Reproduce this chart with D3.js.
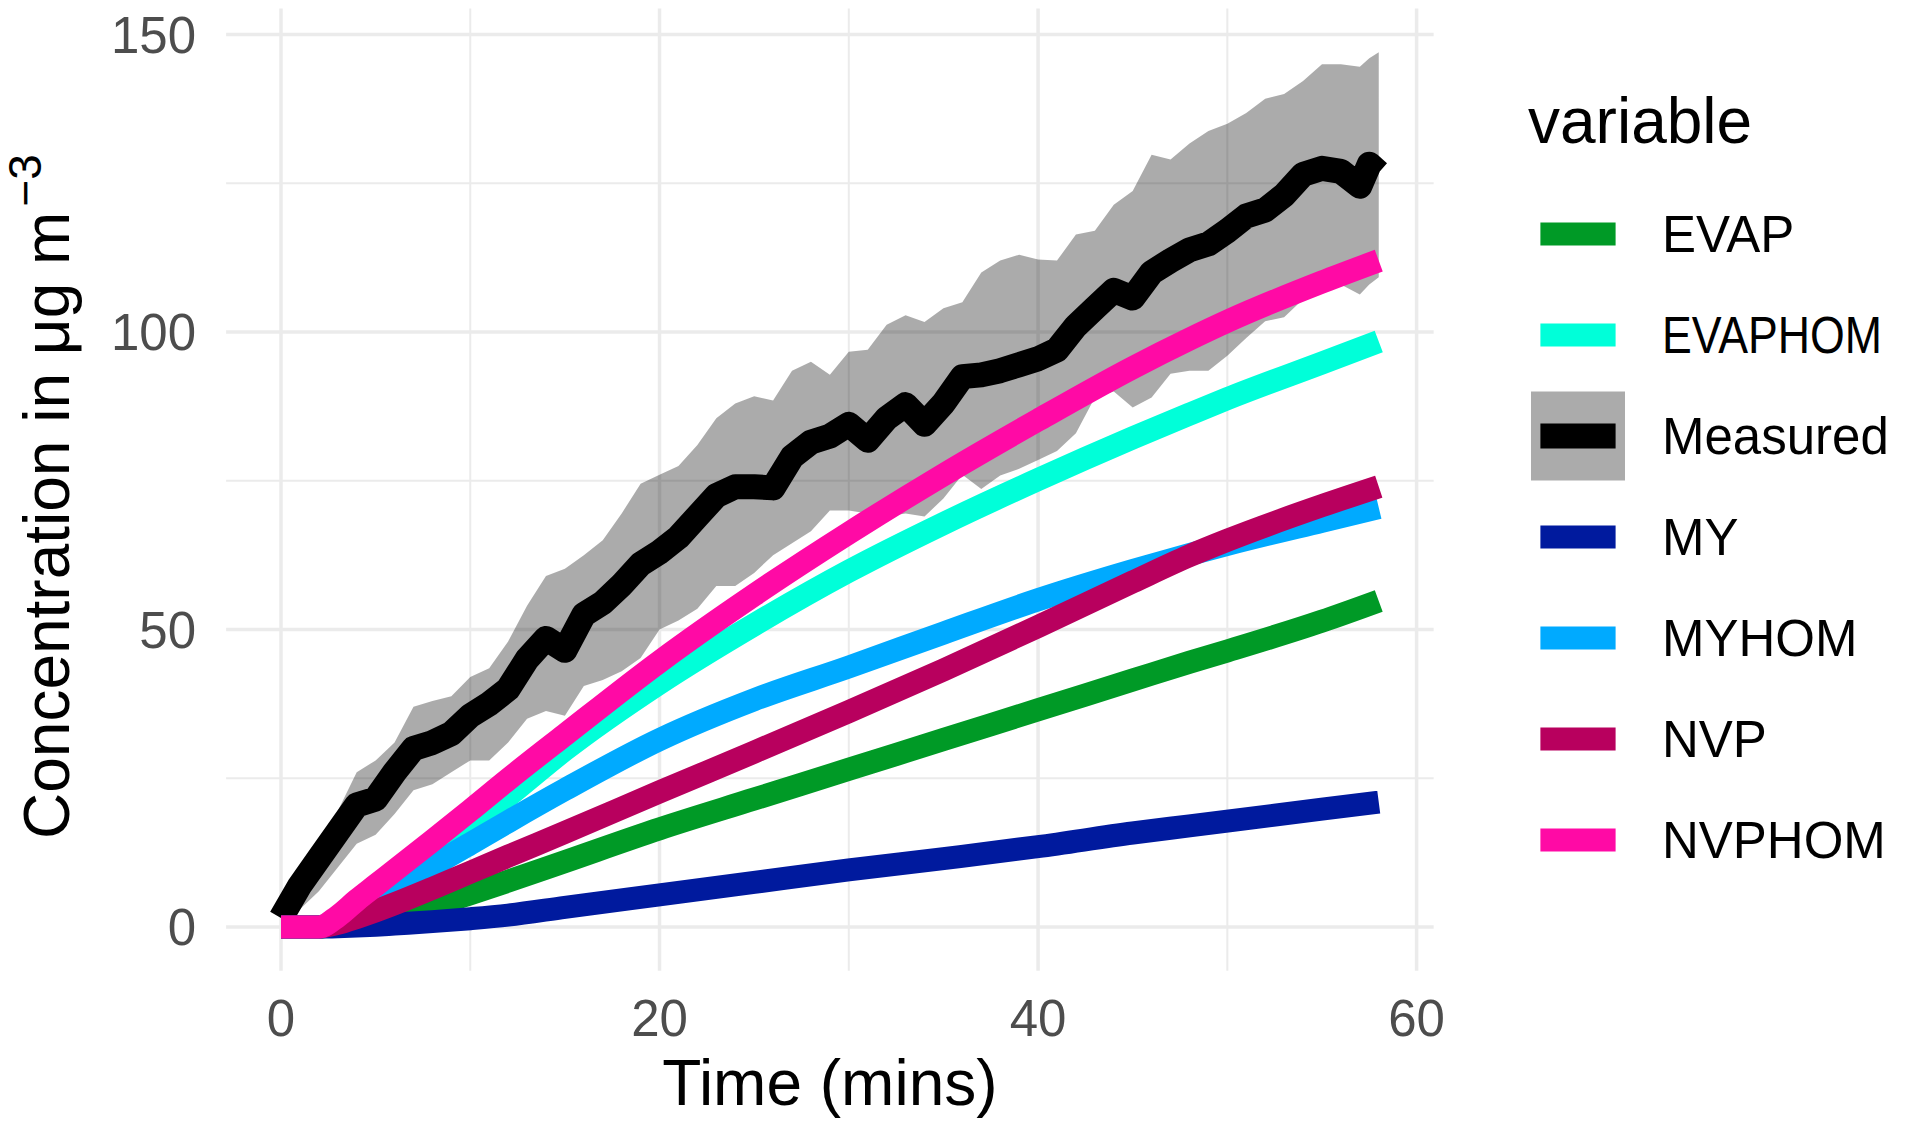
<!DOCTYPE html>
<html><head><meta charset="utf-8">
<script src="https://cdn.jsdelivr.net/npm/d3@7"></script>
<style>
body{margin:0;background:#fff;}
svg{display:block;}
text{font-family:"Liberation Sans",Arial,Helvetica,sans-serif;}
</style>
</head><body>
<svg id="chart" width="1920" height="1132"></svg>
<script>
// ---------------- DATA ----------------
const seriesNames = ["EVAP","EVAPHOM","Measured","MY","MYHOM","NVP","NVPHOM"];
const seriesColors = ["#009A26","#00FFD9","#000000","#001A9E","#00AAFF","#B8005E","#FF0AA5"];

const xTicks = [0,20,40,60];
const xMinor = [10,30,50];
const yTicks = [0,50,100,150];
const yMinor = [25,75,125];

// model time axis (minutes)
const modelTime = [0,2,3,4,5,6,8,10,12,15,20,25,30,35,40,45,48,50,55,58];
const EVAP    = [0,0,0.3,0.8,1.4,2.1,3.6,5.6,7.7,11,16.5,21.5,26.5,31.5,36.5,41.5,44.5,46.4,51.4,54.8];
const EVAPHOM = [0,0,1.5,3.5,5.5,7.7,12.3,17,22,29.8,41,50.8,59.8,67.8,75.2,82.2,86.2,88.8,94.8,98.4];
const MY      = [0,0,0.05,0.15,0.3,0.5,0.9,1.4,2.0,3.3,5.4,7.5,9.6,11.5,13.5,15.8,17,17.8,19.8,21];
const MYHOM   = [0,0,1,2.7,4.5,6.4,10.3,14,17.7,23.1,31.5,38.2,43.7,49.4,55,59.9,62.6,64.3,68.2,70.5];
const NVP     = [0,0,0.6,1.6,2.7,3.9,6.5,9.2,11.9,15.9,22.7,29.4,36.2,43.2,50.5,58,62.4,65,70.8,74];
const NVPHOM  = [0,0,1.8,4.5,7,9.5,14.5,19.6,24.8,32.3,44.6,55.8,66.2,76,85.2,94,98.8,101.8,108.4,112];

// measured series (minutes) with its uncertainty band
const measTime = [0,1,2,3,4,5,6,7,8,9,10,11,12,13,14,15,16,17,18,19,20,21,22,23,24,25,26,27,28,29,
  30,31,32,33,34,35,36,37,38,39,40,41,42,43,44,45,46,47,48,49,50,51,52,53,54,55,56,57,57.5,58];
const Measured = [1.5,7,11.5,16,20.5,21.5,26,30,31,32.5,35.5,37.5,40,45,48.5,46.5,52.5,54.5,57.5,61,
  63,65.5,69,72.5,74,74,73.8,79,81.5,82.5,84.5,81.8,85.5,87.8,84.5,88,92.5,92.8,93.5,94.5,
  95.5,97,101,104,107,105.7,110,112,113.8,114.8,117,119.5,120.5,123,126.5,127.5,127,124.5,128.2,126.8];
const measUpper = [1.5,8,14,19.5,26,28,31,37,38,38.8,42,43.5,48,54,59,60.2,62.5,65,69.5,74.5,
  76,77.5,81,85.5,88,89.2,88.5,93.5,95,92.8,96.7,97,101.2,102.8,101.7,104,105,110,112,113,
  112.2,112,116.4,117,121.4,123.7,129.8,129,131.7,133.8,135,136.8,139.2,140,142.2,145,145,144.6,146,147];
const measLower = [1.5,3,6,10,14,15.5,19,23,24,26,28,28,31,35,36.3,35.5,40.5,41.5,43,45.2,
  50,51.5,53.5,57.3,57.3,59.5,62.5,64.5,66.5,70,70,69.5,69,69.5,69,72,76,73.6,75.9,77,
  78.5,80,83,89,90,87.3,89,93,93.5,93.5,96,99,101.8,102.5,105.5,107,108,106.3,108,109.2];

// ---------------- LAYOUT ----------------
const svg = d3.select("#chart");
const x = d3.scaleLinear().domain([0,60]).range([281,1416.6]);
const y = d3.scaleLinear().domain([0,150]).range([927,34.5]);
const xDom = [-2.9, 60.9], yDom = [-7.35, 154.35];
const px0 = x(xDom[0]), px1 = x(xDom[1]), py0 = y(yDom[0]), py1 = y(yDom[1]);

const grid = svg.append("g");
grid.selectAll(".hmin").data(yMinor).join("line")
  .attr("x1",px0).attr("x2",px1).attr("y1",d=>y(d)).attr("y2",d=>y(d))
  .attr("stroke","#EBEBEB").attr("stroke-width",2);
grid.selectAll(".vmin").data(xMinor).join("line")
  .attr("y1",py0).attr("y2",py1).attr("x1",d=>x(d)).attr("x2",d=>x(d))
  .attr("stroke","#EBEBEB").attr("stroke-width",2);
grid.selectAll(".hmaj").data(yTicks).join("line")
  .attr("x1",px0).attr("x2",px1).attr("y1",d=>y(d)).attr("y2",d=>y(d))
  .attr("stroke","#EBEBEB").attr("stroke-width",3.5);
grid.selectAll(".vmaj").data(xTicks).join("line")
  .attr("y1",py0).attr("y2",py1).attr("x1",d=>x(d)).attr("x2",d=>x(d))
  .attr("stroke","#EBEBEB").attr("stroke-width",3.5);

// ribbon
const band = measTime.map((t,i)=>({t, lo:measLower[i], hi:measUpper[i]}));
svg.append("path").datum(band)
  .attr("d", d3.area().x(d=>x(d.t)).y0(d=>y(d.lo)).y1(d=>y(d.hi)))
  .attr("fill","#000").attr("fill-opacity",0.33);

// lines
const modelData = {EVAP, EVAPHOM, MY, MYHOM, NVP, NVPHOM};
const measLine = d3.line().x(d=>x(d[0])).y(d=>y(d[1])).curve(d3.curveLinear);
const modelLine = d3.line().x(d=>x(d[0])).y(d=>y(d[1])).curve(d3.curveMonotoneX);
seriesNames.forEach((name,i)=>{
  const isMeas = name === "Measured";
  const pts = isMeas ? measTime.map((t,j)=>[t, Measured[j]])
                     : modelTime.map((t,j)=>[t, modelData[name][j]]);
  svg.append("path").datum(pts)
    .attr("d", isMeas ? measLine(pts) : modelLine(pts))
    .attr("fill","none").attr("stroke",seriesColors[i])
    .attr("stroke-width", isMeas ? 25 : 23)
    .attr("stroke-linejoin","round").attr("stroke-linecap","butt");
});

// axis tick labels
const tickColor = "#4D4D4D";
svg.append("g").selectAll("text").data(yTicks).join("text")
  .attr("x",196).attr("y",d=>y(d)).attr("dy","0.36em")
  .attr("text-anchor","end").attr("font-size",51).attr("fill",tickColor)
  .text(d=>d);
svg.append("g").selectAll("text").data(xTicks).join("text")
  .attr("x",d=>x(d)).attr("y",1036)
  .attr("text-anchor","middle").attr("font-size",51).attr("fill",tickColor)
  .text(d=>d);

// axis titles
svg.append("text").attr("x",(px0+px1)/2).attr("y",1105)
  .attr("text-anchor","middle").attr("font-size",64).attr("fill","#000")
  .text("Time (mins)");
const yt = svg.append("text").attr("transform","translate(69,839) rotate(-90)")
  .attr("text-anchor","start").attr("font-size",64).attr("fill","#000");
yt.append("tspan").text("Concentration in \u03BCg m");
yt.append("tspan").attr("font-size",46).attr("dx",5).attr("dy",-28).text("\u22123");

// legend
const lg = svg.append("g");
lg.append("text").attr("x",1528).attr("y",143).attr("font-size",64).attr("fill","#000").text("variable");
const keyX = 1531, keyW = 94, keyH = 89, key0 = 234, keyStep = 101;
seriesNames.forEach((name,i)=>{
  const cy = key0 + i*keyStep;
  if (name === "Measured") {
    lg.append("rect").attr("x",keyX).attr("y",cy-keyH/2).attr("width",keyW).attr("height",keyH)
      .attr("fill","#000").attr("fill-opacity",0.33);
  }
  lg.append("line").attr("x1",keyX+0.1*keyW).attr("x2",keyX+0.9*keyW).attr("y1",cy).attr("y2",cy)
    .attr("stroke",seriesColors[i]).attr("stroke-width", name==="Measured"?25:23);
  const t = lg.append("text").attr("x",1662).attr("y",cy).attr("dy","0.36em")
    .attr("font-size",51).attr("fill","#000").text(name);
  const w = t.node().getComputedTextLength();
  if (w > 240) t.attr("textLength",220).attr("lengthAdjust","spacingAndGlyphs");
});
</script>
</body></html>
